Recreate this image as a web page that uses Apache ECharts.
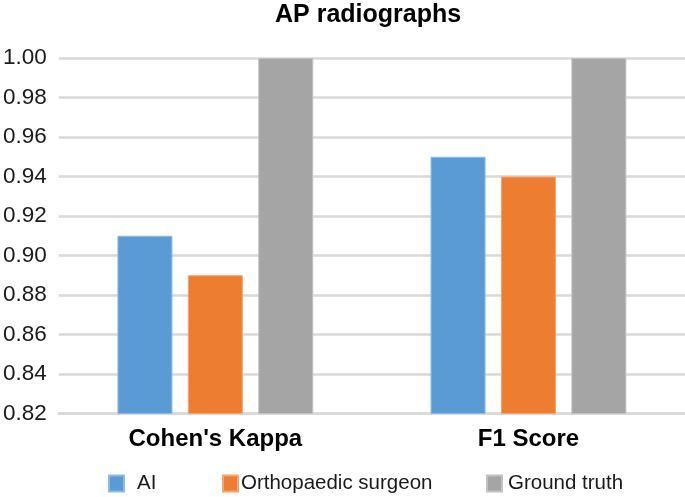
<!DOCTYPE html>
<html>
<head>
<meta charset="utf-8">
<script src="https://cdn.jsdelivr.net/npm/echarts@6/dist/echarts.min.js"></script>
<style>
  html, body { margin: 0; padding: 0; background: #fff; }
  #chart { width: 685px; height: 497px; }
</style>
</head>
<body>
<div id="chart"></div>
<script>
var categories = ["Cohen's Kappa", "F1 Score"];
var seriesNames = ["AI", "Orthopaedic surgeon", "Ground truth"];
var aiValues = [0.91, 0.95];
var surgeonValues = [0.89, 0.94];
var groundTruthValues = [1.00, 1.00];
var yTicks = { min: 0.82, max: 1.00, interval: 0.02 };
var colors = ["#5B9BD5", "#ED7D31", "#A5A5A5"];
var borderColors = ["#8DBBE6", "#F4A472", "#C2C2C2"];

var chart = echarts.init(document.getElementById('chart'), null, { renderer: 'canvas' });
var font = "'Liberation Sans', Arial, sans-serif";

function legendFor(i, left, pad) {
  return {
    data: [seriesNames[i]],
    left: left,
    top: 468,
    icon: 'rect',
    itemWidth: 15,
    itemHeight: 16,
    selectedMode: false,
    textStyle: { fontFamily: font, fontSize: 20.5, color: '#1a1a1a', padding: pad }
  };
}

var allValues = [aiValues, surgeonValues, groundTruthValues];

chart.setOption({
  animation: false,
  title: {
    text: 'AP radiographs',
    left: 270,
    top: -2,
    textStyle: { fontFamily: font, fontSize: 25, fontWeight: 'bold', color: '#000' }
  },
  legend: [
    legendFor(0, 103, [0, 0, 0, 8]),
    legendFor(1, 217, [0, 0, 0, -2]),
    legendFor(2, 481, [0, 0, 0, 1])
  ],
  grid: { left: 58, right: -8, top: 58, bottom: 83.5, containLabel: false },
  xAxis: {
    type: 'category',
    data: categories,
    axisLine: { show: true, lineStyle: { color: '#d9d9d9', width: 2.5 } },
    axisTick: { show: false },
    axisLabel: { fontFamily: font, fontSize: 24, fontWeight: 'bold', color: '#000', margin: 14 }
  },
  yAxis: {
    type: 'value',
    min: yTicks.min,
    max: yTicks.max,
    interval: yTicks.interval,
    axisLine: { show: false },
    axisTick: { show: false },
    splitLine: { lineStyle: { color: '#d9d9d9', width: 2.5 } },
    axisLabel: {
      fontFamily: font, fontSize: 22.5, color: '#1a1a1a', margin: 12,
      formatter: function (v) { return v.toFixed(2); }
    }
  },
  series: seriesNames.map(function (name, i) {
    return {
      name: name,
      type: 'bar',
      data: allValues[i],
      barWidth: 55,
      barGap: '28%',
      itemStyle: { color: colors[i], borderColor: borderColors[i], borderWidth: 1 }
    };
  })
});
</script>
</body>
</html>
